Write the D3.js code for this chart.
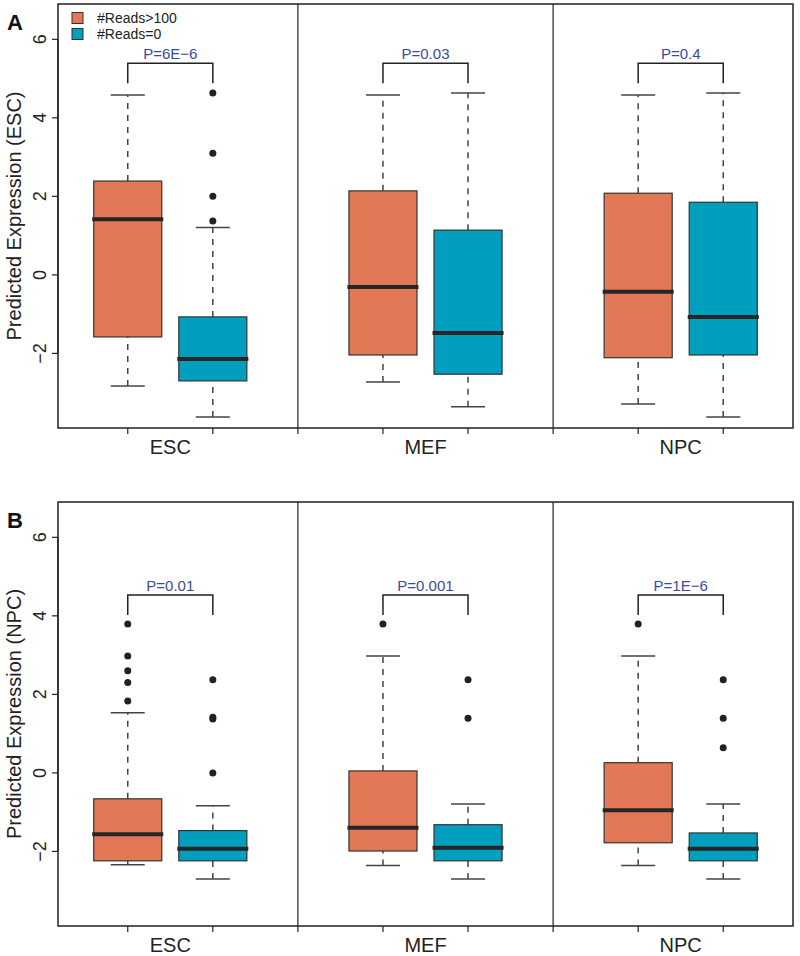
<!DOCTYPE html>
<html>
<head>
<meta charset="utf-8">
<title>Predicted expression boxplots</title>
<script src="https://d3js.org/d3.v7.min.js"></script>
<style>
  body { margin: 0; background: #fff; }
  text { font-family: "Liberation Sans", Arial, Helvetica, sans-serif; }
</style>
</head>
<body>
<div id="chart"></div>
<script>
// ---- data ----
const cells = ["ESC", "MEF", "NPC"];
const groups = ["#Reads>100", "#Reads=0"];
const groupColors = ["#e37857", "#019fbd"];
const yTicks = [-2, 0, 2, 4, 6];

// box order: ESC >100, ESC =0, MEF >100, MEF =0, NPC >100, NPC =0
// each: [lower whisker, Q1, median, Q3, upper whisker]
const statsA = [
  [-2.83, -1.58, 1.42, 2.39, 4.58],
  [-3.62, -2.70, -2.14, -1.07, 1.21],
  [-2.73, -2.04, -0.31, 2.14, 4.58],
  [-3.36, -2.53, -1.48, 1.14, 4.63],
  [-3.29, -2.11, -0.43, 2.08, 4.58],
  [-3.62, -2.04, -1.07, 1.85, 4.63]
];
const outliersA = [[], [4.63, 3.10, 2.00, 1.37], [], [], [], []];
const pValuesA = ["P=6E\u22126", "P=0.03", "P=0.4"];
const bracketA = [5.39, 4.88];

const statsB = [
  [-2.34, -2.24, -1.56, -0.66, 1.53],
  [-2.70, -2.24, -1.93, -1.47, -0.84],
  [-2.36, -1.99, -1.40, 0.05, 2.98],
  [-2.70, -2.24, -1.91, -1.32, -0.79],
  [-2.36, -1.78, -0.95, 0.26, 2.98],
  [-2.70, -2.24, -1.93, -1.53, -0.79]
];
const outliersB = [
  [3.79, 2.98, 2.60, 2.30, 1.83],
  [2.37, 1.42, 1.37, 0.00],
  [3.79],
  [2.37, 1.39],
  [3.79],
  [2.37, 1.39, 0.64]
];
const pValuesB = ["P=0.01", "P=0.001", "P=1E\u22126"];
const bracketB = [4.53, 4.02];

const panels = [
  {label: "A", title: "Predicted Expression (ESC)", stats: statsA, outliers: outliersA, pv: pValuesA, bracket: bracketA, top: 4, legend: true},
  {label: "B", title: "Predicted Expression (NPC)", stats: statsB, outliers: outliersB, pv: pValuesB, bracket: bracketB, top: 502, legend: false}
];

// ---- layout ----
const W = 800, H = 956;
const plotLeft = 58, plotRight = 793, plotH = 424;
const boxPos = [1, 2, 4, 5, 7, 8];
const tickPos = [1, 2, 3, 4, 5, 6, 7, 8];
const dividers = [3, 6];
const boxW = 0.8;

const svg = d3.select("#chart").append("svg")
  .attr("width", W).attr("height", H);

const x = d3.scaleLinear().domain([0.18, 8.82]).range([plotLeft, plotRight]);
const bw = x(boxW) - x(0);
const fmt = d => d < 0 ? "\u2212" + Math.abs(d) : String(d);

panels.forEach(p => {
  const y = d3.scaleLinear().domain([-3.9, 6.9]).range([p.top + plotH, p.top]);
  const g = svg.append("g");

  // y axis
  const ya = g.append("g");
  ya.append("line")
    .attr("x1", plotLeft).attr("x2", plotLeft)
    .attr("y1", y(-2)).attr("y2", y(6))
    .attr("stroke", "#222").attr("stroke-width", 1.2);
  yTicks.forEach(t => {
    ya.append("line")
      .attr("x1", plotLeft - 6).attr("x2", plotLeft)
      .attr("y1", y(t)).attr("y2", y(t))
      .attr("stroke", "#222").attr("stroke-width", 1.2);
    ya.append("text")
      .attr("transform", `translate(46,${y(t)}) rotate(-90)`)
      .attr("text-anchor", "middle")
      .attr("font-size", 18).attr("fill", "#222")
      .text(fmt(t));
  });
  g.append("text")
    .attr("transform", `translate(21,${p.top + plotH / 2}) rotate(-90)`)
    .attr("text-anchor", "middle")
    .attr("font-size", 20).attr("fill", "#222")
    .text(p.title);

  // panel letter
  g.append("text")
    .attr("x", 7).attr("y", p.top + 26)
    .attr("font-size", 22).attr("font-weight", "bold").attr("fill", "#111")
    .text(p.label);

  // x ticks and labels
  tickPos.forEach(t => {
    g.append("line")
      .attr("x1", x(t)).attr("x2", x(t))
      .attr("y1", p.top + plotH).attr("y2", p.top + plotH + 6)
      .attr("stroke", "#222").attr("stroke-width", 1.2);
  });
  cells.forEach((c, i) => {
    g.append("text")
      .attr("x", x(1.5 + 3 * i)).attr("y", p.top + plotH + 26)
      .attr("text-anchor", "middle")
      .attr("font-size", 20).attr("fill", "#222")
      .text(c);
  });

  // dividers
  dividers.forEach(d => {
    g.append("line")
      .attr("x1", x(d)).attr("x2", x(d))
      .attr("y1", p.top).attr("y2", p.top + plotH)
      .attr("stroke", "#222").attr("stroke-width", 1.2);
  });

  // boxes
  p.stats.forEach((s, i) => {
    const cx = x(boxPos[i]);
    const col = groupColors[i % 2];
    const bg = g.append("g");
    // whiskers
    [[s[0], s[1]], [s[3], s[4]]].forEach(([a, b]) => {
      bg.append("line")
        .attr("x1", cx).attr("x2", cx)
        .attr("y1", y(a)).attr("y2", y(b))
        .attr("stroke", "#444").attr("stroke-width", 1.5)
        .attr("stroke-dasharray", "6,6");
    });
    [s[0], s[4]].forEach(v => {
      bg.append("line")
        .attr("x1", cx - bw / 4).attr("x2", cx + bw / 4)
        .attr("y1", y(v)).attr("y2", y(v))
        .attr("stroke", "#444").attr("stroke-width", 1.5);
    });
    bg.append("rect")
      .attr("x", cx - bw / 2).attr("y", y(s[3]))
      .attr("width", bw).attr("height", y(s[1]) - y(s[3]))
      .attr("fill", col).attr("stroke", "#333").attr("stroke-width", 1.2);
    bg.append("line")
      .attr("x1", cx - bw / 2 - 1.5).attr("x2", cx + bw / 2 + 1.5)
      .attr("y1", y(s[2])).attr("y2", y(s[2]))
      .attr("stroke", "#262626").attr("stroke-width", 4);
    bg.selectAll("circle")
      .data(p.outliers[i])
      .enter().append("circle")
      .attr("cx", cx).attr("cy", d => y(d)).attr("r", 3.5)
      .attr("fill", "#222");
  });

  // significance brackets
  cells.forEach((c, i) => {
    const x1 = x(boxPos[2 * i]), x2 = x(boxPos[2 * i + 1]);
    const yt = y(p.bracket[0]), yb = y(p.bracket[1]);
    g.append("path")
      .attr("d", `M${x1},${yb}V${yt}H${x2}V${yb}`)
      .attr("fill", "none").attr("stroke", "#222").attr("stroke-width", 1.5);
    g.append("text")
      .attr("x", (x1 + x2) / 2).attr("y", yt - 4)
      .attr("text-anchor", "middle")
      .attr("font-size", 15).attr("fill", "#3b4b9b")
      .text(p.pv[i]);
  });

  // frame
  g.append("rect")
    .attr("x", plotLeft).attr("y", p.top)
    .attr("width", plotRight - plotLeft).attr("height", plotH)
    .attr("fill", "none").attr("stroke", "#222").attr("stroke-width", 1.5);

  // legend
  if (p.legend) {
    groups.forEach((gr, i) => {
      const cy = p.top + 14 + i * 16;
      g.append("rect")
        .attr("x", 72).attr("y", cy - 5.5)
        .attr("width", 11).attr("height", 11)
        .attr("fill", groupColors[i]).attr("stroke", "#333").attr("stroke-width", 1);
      g.append("text")
        .attr("x", 97).attr("y", cy + 5)
        .attr("font-size", 14).attr("fill", "#222")
        .text(gr);
    });
  }
});
</script>
</body>
</html>
